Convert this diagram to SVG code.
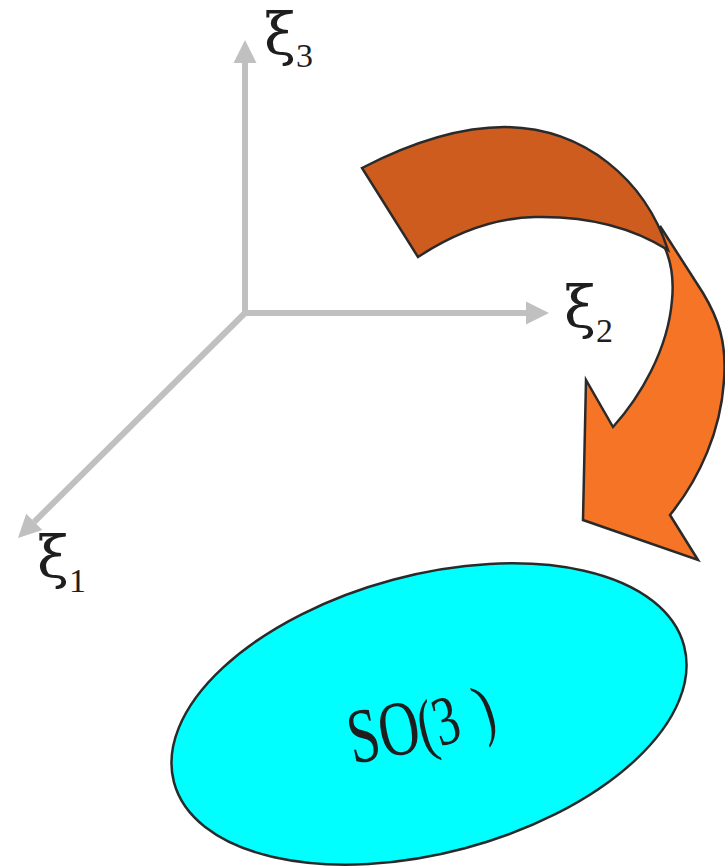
<svg xmlns="http://www.w3.org/2000/svg" width="725" height="866" viewBox="0 0 725 866">
<style>
.axis{stroke:#c0c0c0;stroke-width:6;fill:none}
.lbl{font-family:"Liberation Serif","Times New Roman",serif;fill:#1e1e1e}
.big{font-family:"DejaVu Serif",serif;font-size:58px}
.sub{font-size:34px}
.outl{stroke:#2a2a2a;stroke-width:2.5;stroke-linejoin:miter}
</style>
<defs>
<marker id="ah" markerUnits="userSpaceOnUse" markerWidth="24" markerHeight="24" refX="0" refY="11.5" orient="auto" overflow="visible">
<path d="M0,0 L23,11.5 L0,23 Z" fill="#c0c0c0"/>
</marker>
</defs>
<rect width="725" height="866" fill="#fff"/>
<g id="axes">
<line class="axis" x1="245" y1="313" x2="245" y2="63" marker-end="url(#ah)"/>
<line class="axis" x1="245" y1="313" x2="526" y2="313" marker-end="url(#ah)"/>
<line class="axis" x1="245" y1="313" x2="34.3" y2="521.8" marker-end="url(#ah)"/>
</g>
<g id="label-xi3"><text class="lbl" x="264" y="54"><tspan class="big">ξ</tspan><tspan class="sub" dy="13">3</tspan></text></g>
<g id="label-xi2"><text class="lbl" x="564" y="327"><tspan class="big">ξ</tspan><tspan class="sub" dy="15">2</tspan></text></g>
<g id="label-xi1"><text class="lbl" x="37" y="577"><tspan class="big">ξ</tspan><tspan class="sub" dy="15">1</tspan></text></g>
<g id="rotation-arrow">
<path class="outl" fill="#f57426" d="M660,226 L703,293 C718,318 727,342 724,380 C721,430 700,478 670,515 L698,560 L583,520 L586,380 L613,427 C640,397 668,350 672,300 C674,280 671,262 665,248 Z"/>
<path class="outl" fill="#cd5c1e" d="M362,168 C420,138 465,127 505,127 C585,128 645,180 668,250 C630,226 585,216 535,217 C490,218 450,236 418,257 Z"/>
</g>
<g id="so3">
<ellipse cx="429" cy="714" rx="264" ry="139" transform="rotate(-15 429 714)" fill="#00ffff" stroke="#2a2a2a" stroke-width="2.5"/>
<text class="lbl" font-size="78" transform="translate(353 764) rotate(-11) scale(0.72 1)">SO<tspan font-size="70" rotate="-4 -6">(3</tspan><tspan font-size="70" dx="28" dy="-4" rotate="-10">)</tspan></text>
</g>
</svg>
